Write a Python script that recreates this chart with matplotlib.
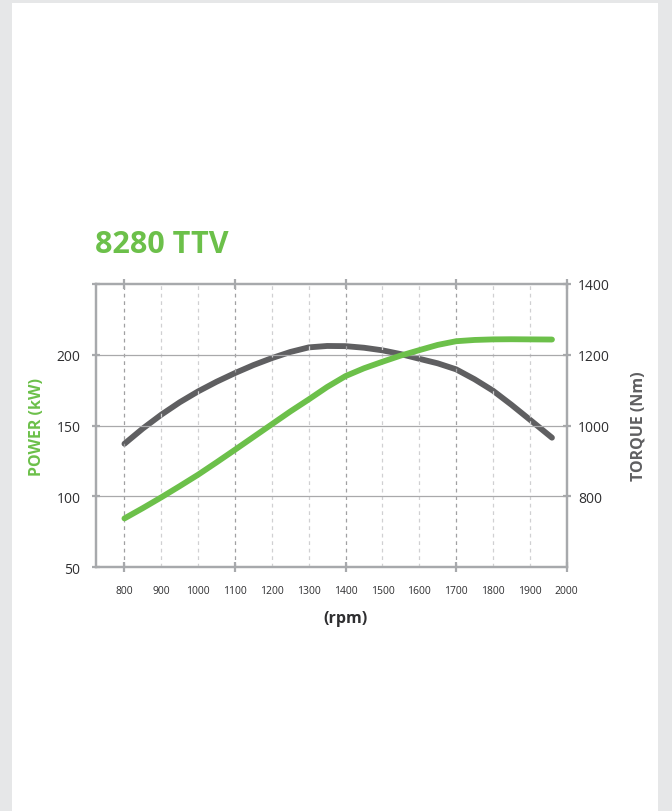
import matplotlib
matplotlib.use("Agg")
import matplotlib.pyplot as plt
from matplotlib.patches import Rectangle

plt.rcParams['font.family'] = ['Open Sans', 'DejaVu Sans']

# ---- data ----
rpm = [800, 850, 900, 950, 1000, 1050, 1100, 1150, 1200, 1250, 1300, 1350,
       1400, 1450, 1500, 1550, 1600, 1650, 1700, 1750, 1800, 1850, 1900, 1960]
power_kw = [84.5, 91.8, 99.4, 107.3, 115.4, 124.1, 133.0, 142.0, 151.0, 160.0,
            168.5, 177.3, 185.0, 190.5, 195.1, 199.5, 203.3, 207.0, 209.6, 210.5,
            210.9, 211.0, 210.9, 210.8]
torque_nm = [948.8, 992.0, 1031.0, 1066.0, 1096.8, 1124.0, 1148.5, 1171.0, 1190.7,
             1208.0, 1221.0, 1225.0, 1224.5, 1220.0, 1212.7, 1202.0, 1188.8, 1176.0,
             1159.0, 1131.0, 1098.8, 1059.0, 1017.0, 966.0]

x_ticks = [800, 900, 1000, 1100, 1200, 1300, 1400, 1500, 1600, 1700, 1800, 1900, 2000]
x_major = [800, 1100, 1400, 1700]
left_ticks = [50, 100, 150, 200]
right_ticks = [800, 1000, 1200, 1400]
hgrid = [100, 150, 200]

title = "8280 TTV"
GREEN = "#6cc04a"
DARK = "#5f5f61"
SPINE = "#a7a9ac"
TXT = "#2f2f31"

W, H = 672, 812
fig = plt.figure(figsize=(W / 100, H / 100), dpi=100, facecolor="#e6e7e8")
fig.patches.append(Rectangle((12 / W, 0), (658 - 12) / W, 1 - 4 / H,
                             transform=fig.transFigure, facecolor="white",
                             edgecolor="none", zorder=-10))

ax = fig.add_axes([95.7 / W, 1 - 568.3 / H, (566.7 - 95.7) / W, (568.3 - 285) / H])
ax.set_facecolor("none")
ax.set_xlim(722, 2000)
ax.set_ylim(50, 250)

# grid lines
for xv in x_ticks[:-1]:
    if xv in x_major:
        ax.axvline(xv, color="#a0a0a2", lw=0.9, ls=(0, (3, 3)), zorder=1)
    else:
        ax.axvline(xv, color="#d0d0d2", lw=0.9, ls=(0, (3, 3)), zorder=1)
for yv in hgrid:
    ax.axhline(yv, color="#a9a9ab", lw=0.9, zorder=1)

ax2 = ax.twinx()
ax2.set_ylim(600, 1400)
ax2.patch.set_visible(False)

ax2.plot(rpm, torque_nm, color=DARK, lw=4.2, solid_capstyle="round",
         solid_joinstyle="round", zorder=3)
ax.plot(rpm, power_kw, color=GREEN, lw=4.2, solid_capstyle="round",
        solid_joinstyle="round", zorder=4)
ax.set_zorder(2)
ax2.set_zorder(1)

for a in (ax, ax2):
    for s in a.spines.values():
        s.set_color(SPINE)
        s.set_linewidth(1.6)

# left axis ticks
ax.set_yticks(left_ticks + [250])
ax.set_yticklabels([str(v) for v in left_ticks] + [""])
ax.tick_params(axis="y", direction="inout", length=6, width=1.6, color=SPINE,
               labelsize=10, labelcolor=TXT, pad=8)

# x axis
ax.set_xticks(x_major + [2000], minor=False)
ax.set_xticklabels([])
ax.tick_params(axis="x", which="major", direction="inout", length=7, width=1.6,
               color=SPINE, top=True)
for xv in x_ticks:
    ax.text(xv, -0.082, str(xv), transform=ax.get_xaxis_transform(),
            ha="center", va="center", fontsize=7.5, color=TXT)

# right axis
ax2.set_yticks(right_ticks)
ax2.set_yticklabels([str(v) for v in right_ticks])
ax2.tick_params(axis="y", direction="inout", length=6, width=1.6, color=SPINE,
                labelsize=10, labelcolor=TXT, pad=5)

ax.set_ylabel("POWER (kW)", color=GREEN, fontsize=11.5, fontweight="bold")
ax2.set_ylabel("TORQUE (Nm)", color=DARK, fontsize=11.5, fontweight="bold")
ax.yaxis.set_label_coords(-0.108, 0.5)
ax2.yaxis.set_label_coords(1.136, 0.5)

ax.text(0.53, -0.18, "(rpm)", transform=ax.transAxes, ha="center", va="center",
        fontsize=11.5, fontweight="bold", color=TXT)

fig.text(95 / W, 1 - 253 / H, title, ha="left", va="baseline", fontsize=22,
         fontweight="bold", color=GREEN)

fig.savefig("out.png", dpi=100, facecolor=fig.get_facecolor())
